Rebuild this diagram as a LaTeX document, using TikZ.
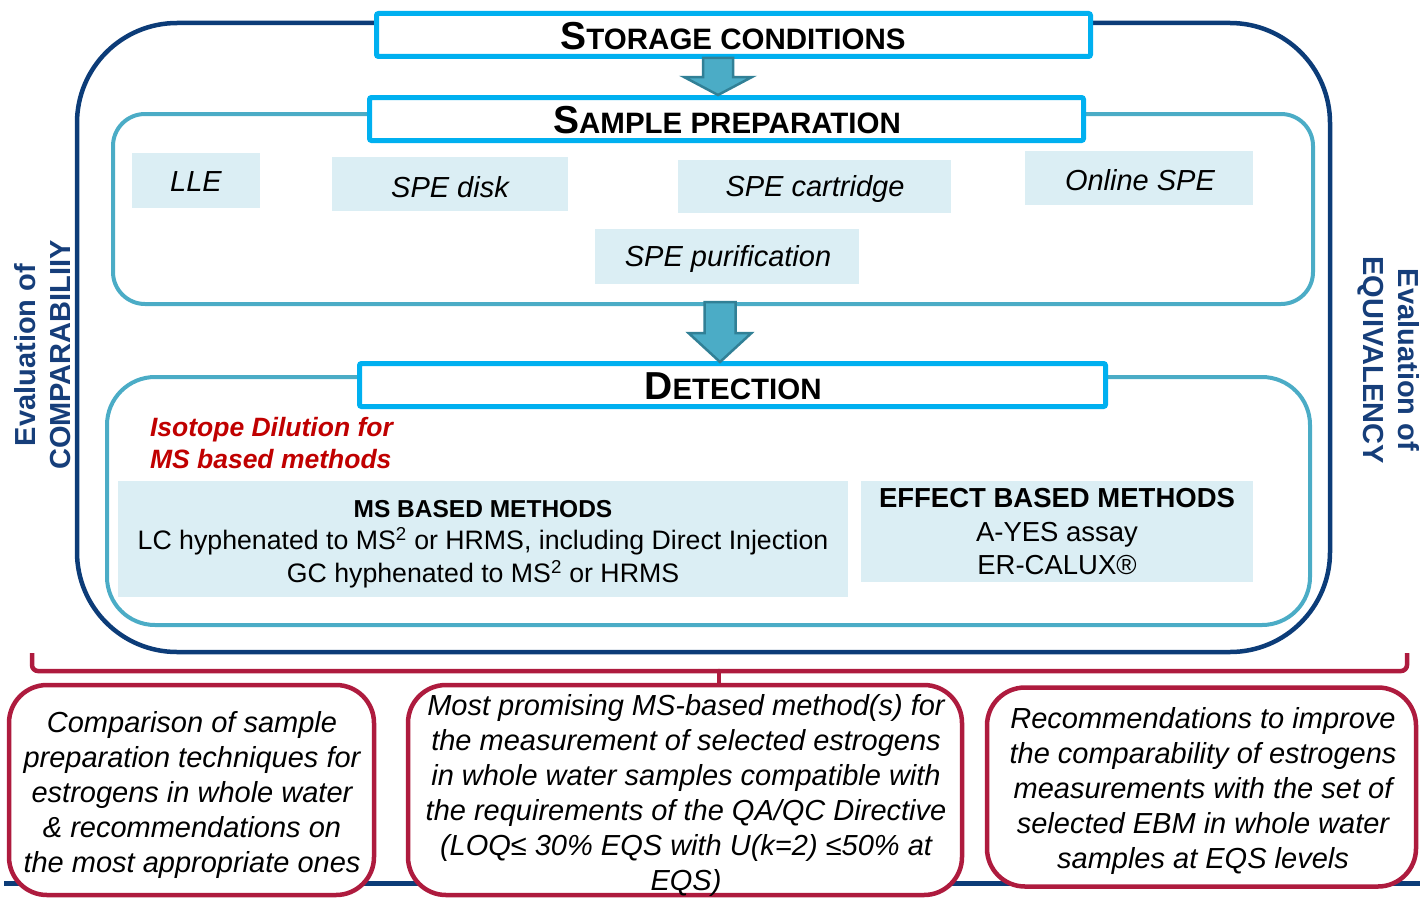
\documentclass[tikz,border=0pt]{standalone}
\usepackage{fontspec}
\setmainfont{Liberation Sans}
\usetikzlibrary{calc}

\definecolor{navyframe}{RGB}{12,60,120}
\definecolor{tealframe}{RGB}{75,172,198}
\definecolor{cyantitle}{RGB}{0,176,240}
\definecolor{paleblue}{RGB}{219,238,244}
\definecolor{arrowfill}{RGB}{75,172,198}
\definecolor{arrowedge}{RGB}{49,128,150}
\definecolor{crimsonline}{RGB}{174,27,62}
\definecolor{isotopered}{RGB}{192,0,0}
\definecolor{labelblue}{RGB}{22,62,122}

\newcommand{\fsz}[2]{\fontsize{#1}{#2}\selectfont}
% stage title in small capitals: large initial, smaller capitals after it
\newcommand{\stagetitle}[2]{{\fsz{39}{40}\bfseries #1}{\fsz{29.5}{32}\bfseries #2}}

\begin{document}
\begin{tikzpicture}[x=1pt,y=-1pt,
  every node/.style={inner sep=0pt, outer sep=0pt},
  outerframe/.style={draw=navyframe, line width=4.5pt, rounded corners=100pt},
  stageframe/.style={draw=tealframe, line width=4pt},
  titlebox/.style={draw=cyantitle, line width=5pt, fill=white, rounded corners=2pt},
  techbox/.style={fill=paleblue},
  techtext/.style={font=\fsz{29}{34}\itshape},
  methodbox/.style={fill=paleblue, align=center},
  outcome/.style={draw=crimsonline, line width=4.5pt, fill=white, rounded corners=38pt},
  outcometext/.style={align=center, font=\fsz{29}{35}\itshape},
  sidelabel/.style={align=center, text=labelblue, font=\fsz{29}{35}\bfseries},
  flowarrow/.style={fill=arrowfill, draw=arrowedge, line width=2.5pt, line join=miter},
  brace/.style={draw=crimsonline, line width=4.5pt, rounded corners=6pt}
]
\useasboundingbox (0,0) rectangle (1420,899);

% frames
\node[outerframe, minimum width=1253, minimum height=629] (outer) at (703.5,337.5) {};
\node[stageframe, rounded corners=32pt, minimum width=1200, minimum height=190] (prepframe) at (713,209) {};
\node[stageframe, rounded corners=48pt, minimum width=1203, minimum height=248] (detframe) at (708.5,501) {};

% stage titles
\node[titlebox, minimum width=714, minimum height=43] (storage) at (733.5,35) {};
\node at (733,36) (storagetxt) {\stagetitle{S}{TORAGE CONDITIONS}};
\node[titlebox, minimum width=714, minimum height=43] (prep) at (726.5,119) {};
\node at (727,120) (preptxt) {\stagetitle{S}{AMPLE PREPARATION}};
\node[titlebox, minimum width=746, minimum height=43] (detect) at (732.5,385) {};
\node at (733,386) (detecttxt) {\stagetitle{D}{ETECTION}};

% sample preparation techniques
\node[techbox, minimum width=128, minimum height=55] (lle) at (196,180) {};
\node[techtext] (lletxt) at (196,182) {LLE};
\node[techbox, minimum width=236, minimum height=54] (disk) at (450,184) {};
\node[techtext] (disktxt) at (450,187) {SPE disk};
\node[techbox, minimum width=273, minimum height=53] (cart) at (814.5,186.5) {};
\node[techtext] (carttxt) at (815,189) {SPE cartridge};
\node[techbox, minimum width=228, minimum height=54] (online) at (1139,178) {};
\node[techtext] (onlinetxt) at (1140,180) {Online SPE};
\node[techbox, minimum width=264, minimum height=55] (purif) at (727,256.5) {};
\node[techtext] (puriftxt) at (728,259) {SPE purification};

% detection methods
\node[anchor=west, align=left, text=isotopered, font=\fsz{26.5}{32}\bfseries\itshape] (idms) at (150,443)
  {Isotope Dilution for\\MS based methods};
\node[methodbox, minimum width=730, minimum height=116] (ms) at (483,539) {};
\node[align=center, font=\fsz{26.7}{32.5}] (mstxt) at (483,544)
  {{\fsz{24.5}{32.5}\bfseries MS BASED METHODS}\\
   LC hyphenated to MS\textsuperscript{2} or HRMS, including Direct Injection\\
   GC hyphenated to MS\textsuperscript{2} or HRMS};
\node[methodbox, minimum width=392, minimum height=101] (ebm) at (1057,531.5) {};
\node[align=center, font=\fsz{27.5}{33.5}] (ebmtxt) at (1057,532)
  {{\bfseries EFFECT BASED METHODS}\\A-YES assay\\ER-CALUX\textregistered};

% flow arrows between the stages
\coordinate (a1top) at (718,58);
\coordinate (a1tip) at (718,95);
\coordinate (a2top) at (720,302);
\coordinate (a2tip) at (720,362);
\draw[flowarrow] let \p1=(a1top), \p2=(a1tip) in
  (\x1-15pt,\y1) -- (\x1+15pt,\y1) -- (\x1+15pt,\y2+18pt) -- (\x1+34pt,\y2+18pt)
  -- (\x1,\y2) -- (\x1-34pt,\y2+18pt) -- (\x1-15pt,\y2+18pt) -- cycle;
\draw[flowarrow] let \p1=(a2top), \p2=(a2tip) in
  (\x1-15.5pt,\y1) -- (\x1+15.5pt,\y1) -- (\x1+15.5pt,\y2+29pt) -- (\x1+31.5pt,\y2+29pt)
  -- (\x1,\y2) -- (\x1-31.5pt,\y2+29pt) -- (\x1-15.5pt,\y2+29pt) -- cycle;

% side labels
\node[sidelabel, rotate=90] (comparab) at (43,355) {Evaluation of\\COMPARABILIIY};
\node[sidelabel, rotate=-90] (equiv) at (1389,360) {Evaluation of\\EQUIVALENCY};

% brace gathering the whole scheme
\coordinate (brL) at (32,653);
\coordinate (brR) at (1407,653);
\coordinate (brM) at (719,671);
\draw[brace] (brL) -- (brL |- brM) -- (brR |- brM) -- (brR);
\draw[crimsonline, line width=4.5pt, line cap=round] (brM) -- ++(0,18);

% base line under the outcomes
\coordinate (baseL) at (4,883);
\coordinate (baseR) at (1420,883);
\draw[navyframe, line width=5pt] (baseL) -- (baseR);

% outcomes
\node[outcome, minimum width=365, minimum height=210] (out1) at (191.5,790) {};
\node[outcometext] (out1txt) at (192,795)
  {Comparison of sample\\preparation techniques for\\estrogens in whole water\\\& recommendations on\\the most appropriate ones};
\node[outcome, minimum width=554, minimum height=210] (out2) at (685,790) {};
\node[outcometext] (out2txt) at (686,795)
  {Most promising MS-based method(s) for\\the measurement of selected estrogens\\in whole water samples compatible with\\the requirements of the QA/QC Directive\\(LOQ≤ 30\% EQS with U(k=2) ≤50\% at\\EQS)};
\node[outcome, minimum width=429, minimum height=199] (out3) at (1201.5,787) {};
\node[outcometext] (out3txt) at (1203,791)
  {Recommendations to improve\\the comparability of estrogens\\measurements with the set of\\selected EBM in whole water\\samples at EQS levels};
\end{tikzpicture}
\end{document}
